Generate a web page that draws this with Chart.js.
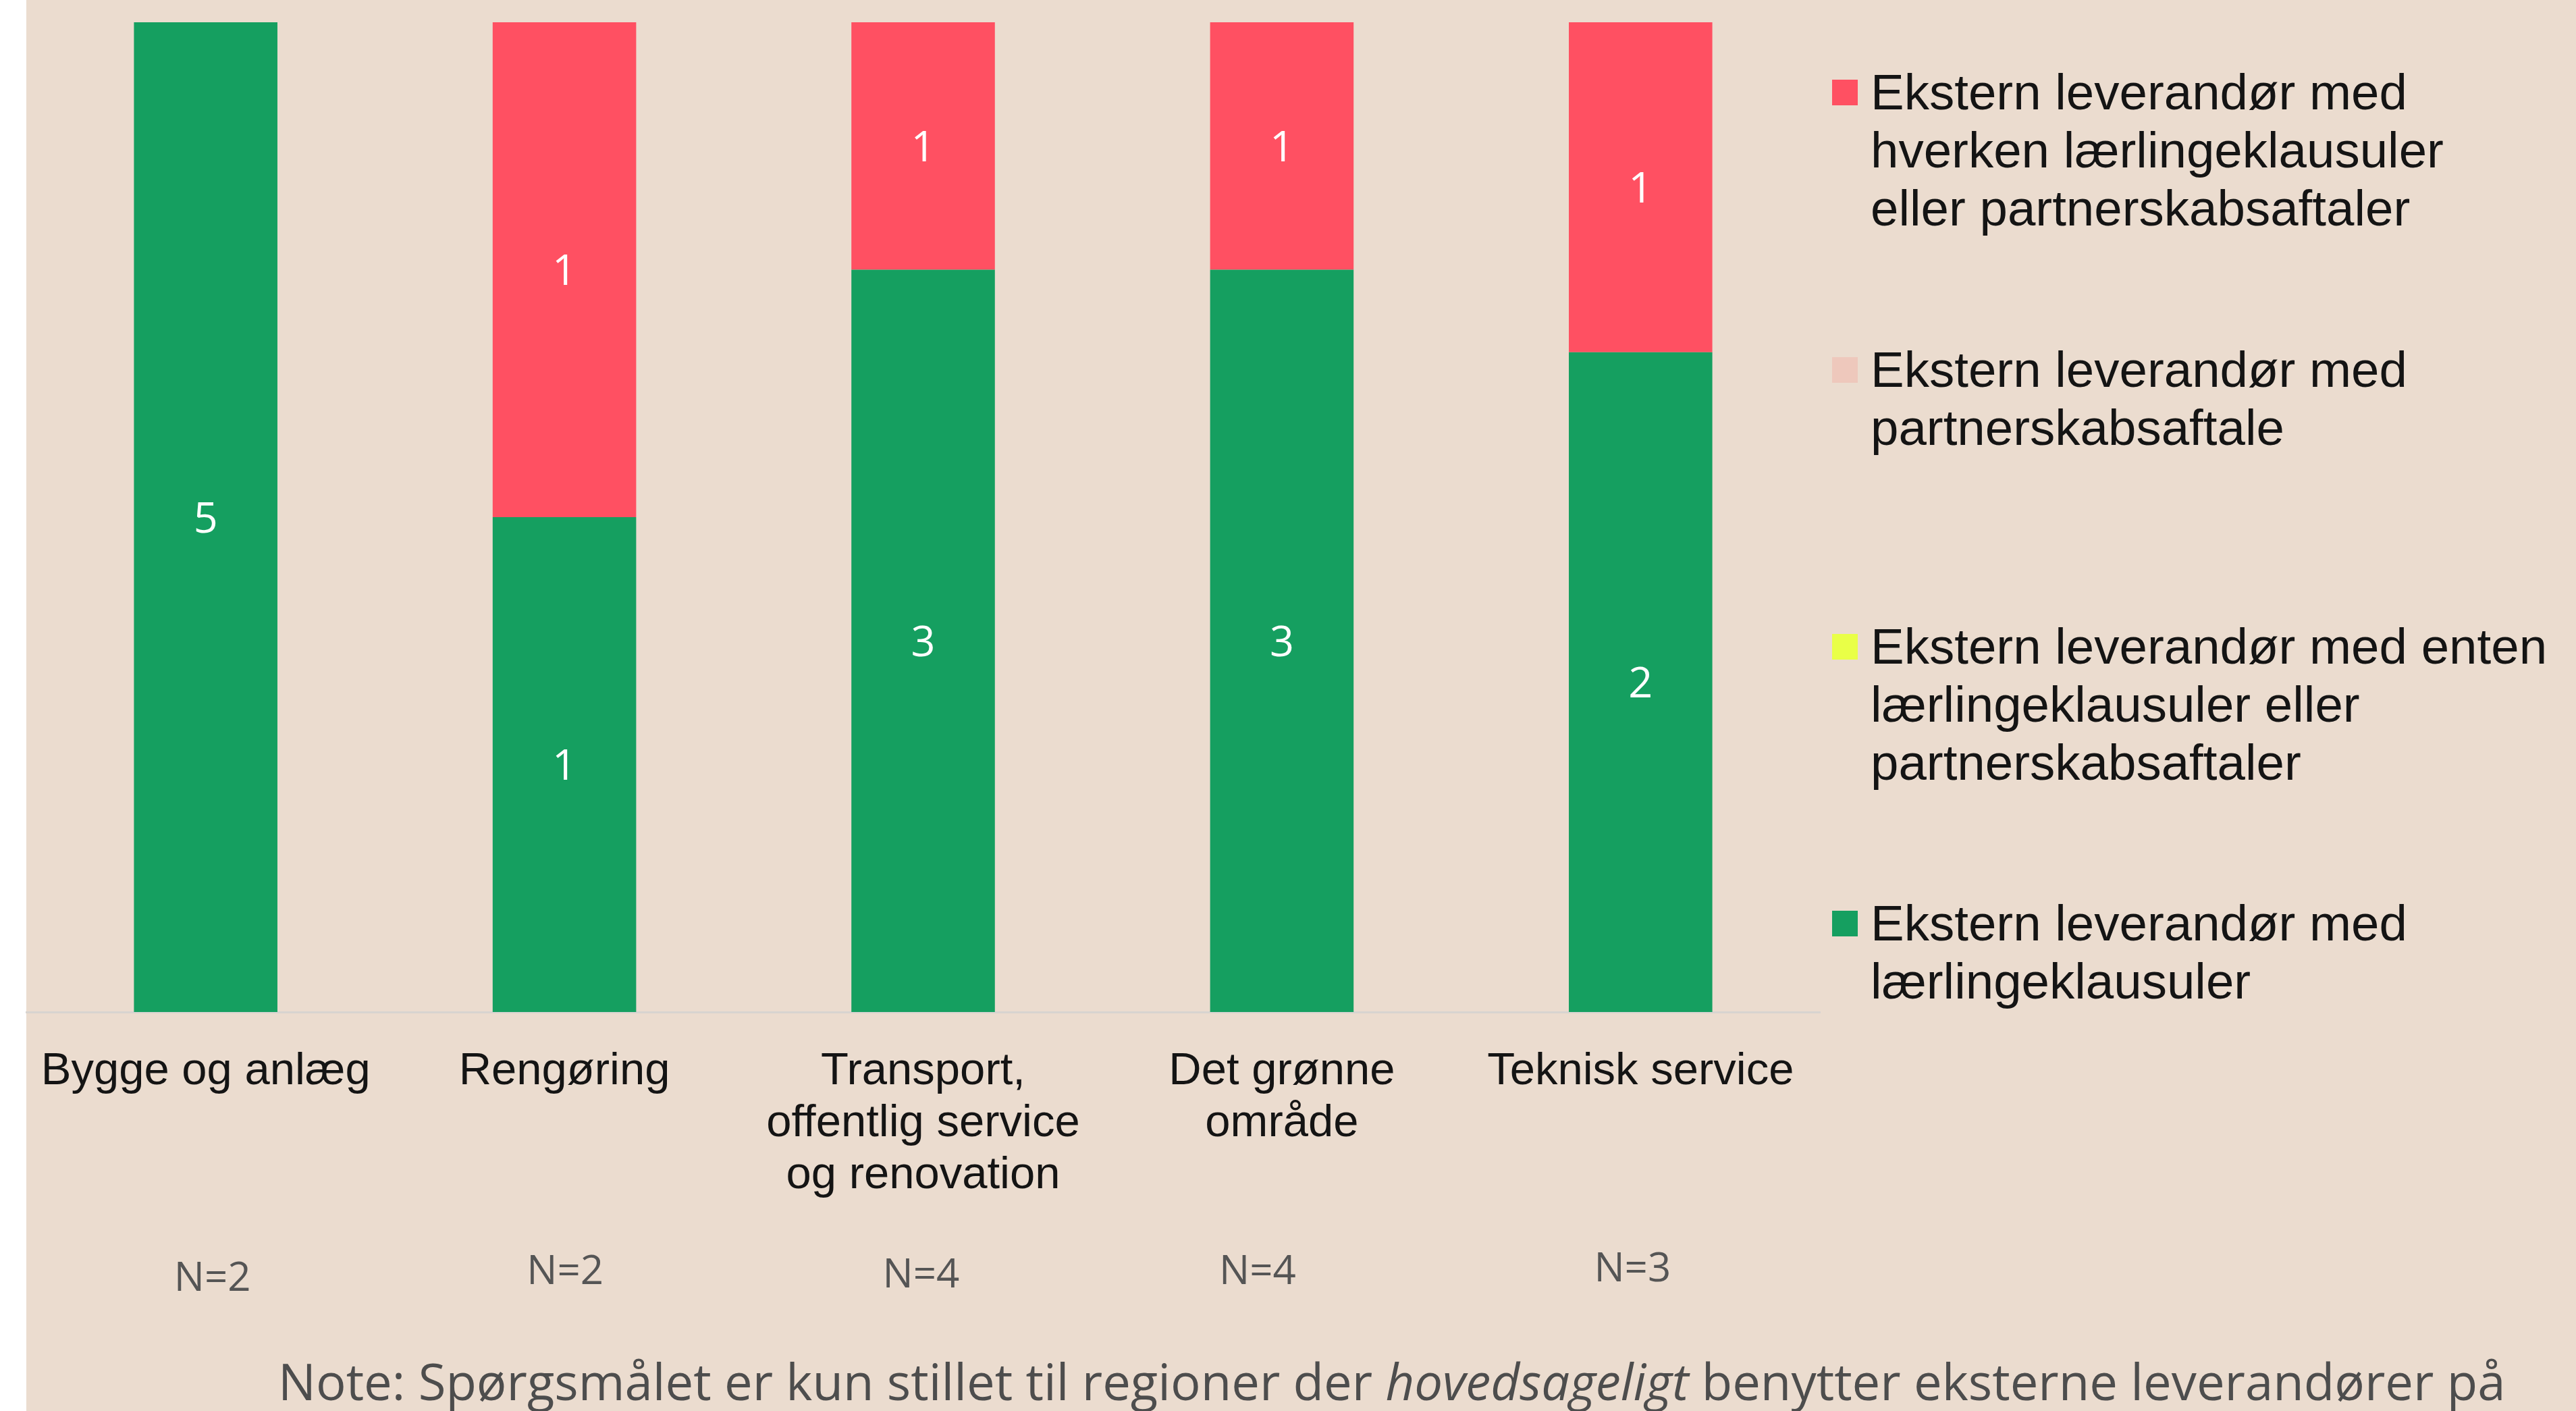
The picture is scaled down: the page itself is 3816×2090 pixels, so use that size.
<!DOCTYPE html>
<html>
<head>
<meta charset="utf-8">
<script src="https://cdn.jsdelivr.net/npm/chart.js@4.4.1/dist/chart.umd.min.js"></script>
<style>
  html, body { margin: 0; padding: 0; background: #ffffff; }
  #wrap { width: 3816px; height: 2090px; position: relative; }
  canvas { display: block; }
</style>
</head>
<body>
<div id="wrap"><canvas id="c" width="3816" height="2090"></canvas></div>
<script>
// ---------- data ----------
const categories = [
  ["Bygge og anlæg"],
  ["Rengøring"],
  ["Transport,", "offentlig service", "og renovation"],
  ["Det grønne", "område"],
  ["Teknisk service"]
];
const seriesLaerling    = [5, 1, 3, 3, 2];   // Ekstern leverandør med lærlingeklausuler
const seriesEnten       = [0, 0, 0, 0, 0];   // ... med enten lærlingeklausuler eller partnerskabsaftaler
const seriesPartnerskab = [0, 0, 0, 0, 0];   // ... med partnerskabsaftale
const seriesHverken     = [0, 1, 1, 1, 1];   // ... med hverken lærlingeklausuler eller partnerskabsaftaler
const nLabels = ["N=2", "N=2", "N=4", "N=4", "N=3"];

const legendLabels = [
  ["Ekstern leverandør med", "hverken lærlingeklausuler", "eller partnerskabsaftaler"],
  ["Ekstern leverandør med", "partnerskabsaftale"],
  ["Ekstern leverandør med enten", "lærlingeklausuler eller", "partnerskabsaftaler"],
  ["Ekstern leverandør med", "lærlingeklausuler"]
];
const noteParts = [
  { text: "Note: Spørgsmålet er kun stillet til regioner der ", italic: false },
  { text: "hovedsageligt", italic: true },
  { text: " benytter eksterne leverandører på", italic: false }
];

// ---------- style ----------
const COL_GREEN = "#159f60";
const COL_YELLOW = "#e9ff47";
const COL_PINK = "#eec8bc";
const COL_RED = "#ff5062";
const BG = "#ebdccf";
const nLabelNudge = [[10, 5], [1, -5], [-3, 0], [-36, -5], [-12, -9]];

const totals = categories.map((_, i) =>
  seriesLaerling[i] + seriesEnten[i] + seriesPartnerskab[i] + seriesHverken[i]);
const share = arr => arr.map((v, i) => totals[i] ? v / totals[i] * 100 : 0);

const countsByDataset = [seriesLaerling, seriesEnten, seriesPartnerskab, seriesHverken];

const bgPlugin = {
  id: 'bg',
  beforeDraw(chart) {
    const ctx = chart.ctx;
    ctx.save();
    ctx.fillStyle = '#ffffff';
    ctx.fillRect(0, 0, chart.width, chart.height);
    ctx.fillStyle = BG;
    ctx.fillRect(39, 0, chart.width - 39, chart.height);
    ctx.restore();
  }
};

const labelPlugin = {
  id: 'segLabels',
  afterDatasetsDraw(chart) {
    const ctx = chart.ctx;
    ctx.save();
    ctx.fillStyle = '#ffffff';
    ctx.font = '63px "Open Sans"';
    ctx.textAlign = 'center';
    ctx.textBaseline = 'middle';
    chart.data.datasets.forEach((ds, di) => {
      const meta = chart.getDatasetMeta(di);
      meta.data.forEach((bar, i) => {
        const v = countsByDataset[di][i];
        if (!v) return;
        ctx.fillText(String(v), bar.x, (bar.y + bar.base) / 2 + 5);
      });
    });
    ctx.restore();
  }
};

const extrasPlugin = {
  id: 'extras',
  afterDraw(chart) {
    const ctx = chart.ctx;
    const xs = chart.scales.x;
    ctx.save();
    // N labels
    ctx.fillStyle = '#555555';
    ctx.font = '60px "Open Sans"';
    ctx.textAlign = 'center';
    ctx.textBaseline = 'middle';
    nLabels.forEach((t, i) => {
      const x = xs.getPixelForValue(i) + nLabelNudge[i][0];
      ctx.fillText(t, x, 1890 + nLabelNudge[i][1]);
    });
    // legend
    const cols = [COL_RED, COL_PINK, COL_YELLOW, COL_GREEN];
    const centers = [137, 548, 958, 1368];
    ctx.textAlign = 'left';
    ctx.textBaseline = 'alphabetic';
    ctx.font = '74.5px "Liberation Sans"';
    legendLabels.forEach((lines, k) => {
      ctx.fillStyle = cols[k];
      ctx.fillRect(2714, centers[k] - 19, 38, 38);
      ctx.fillStyle = '#141414';
      lines.forEach((ln, j) => ctx.fillText(ln, 2771, centers[k] + 25 + j * 86));
    });
    // note
    const target = 3300;
    let size = 74;
    const fontFor = (it, s) => (it ? 'italic ' : '') + s + 'px "Open Sans"';
    const measureAll = s => noteParts.reduce((w, p) => { ctx.font = fontFor(p.italic, s); return w + ctx.measureText(p.text).width; }, 0);
    size = size * target / measureAll(size);
    let x = 412;
    ctx.fillStyle = '#4d4d4d';
    noteParts.forEach(p => {
      ctx.font = fontFor(p.italic, size);
      ctx.fillText(p.text, x, 2074);
      x += ctx.measureText(p.text).width;
    });
    ctx.restore();
  }
};

new Chart(document.getElementById('c'), {
  type: 'bar',
  data: {
    labels: categories,
    datasets: [
      { label: legendLabels[3].join(' '), data: share(seriesLaerling), backgroundColor: COL_GREEN },
      { label: legendLabels[2].join(' '), data: share(seriesEnten), backgroundColor: COL_YELLOW },
      { label: legendLabels[1].join(' '), data: share(seriesPartnerskab), backgroundColor: COL_PINK },
      { label: legendLabels[0].join(' '), data: share(seriesHverken), backgroundColor: COL_RED }
    ]
  },
  options: {
    responsive: false,
    animation: false,
    devicePixelRatio: 1,
    layout: { padding: { left: 39, right: 1120, top: 33, bottom: 0 } },
    categoryPercentage: 1.0,
    barPercentage: 0.4,
    plugins: { legend: { display: false }, tooltip: { enabled: false } },
    scales: {
      x: {
        stacked: true,
        grid: { display: false, drawTicks: false },
        border: { display: true, color: '#d8d4d0', width: 3 },
        ticks: {
          color: '#141414',
          font: { family: '"Liberation Sans"', size: 67, lineHeight: 1.15 },
          padding: 50,
          maxRotation: 0,
          autoSkip: false
        },
        afterFit(scale) { scale.height = 591; }
      },
      y: {
        stacked: true,
        display: false,
        min: 0,
        max: 100
      }
    }
  },
  plugins: [bgPlugin, labelPlugin, extrasPlugin]
});
</script>
</body>
</html>
